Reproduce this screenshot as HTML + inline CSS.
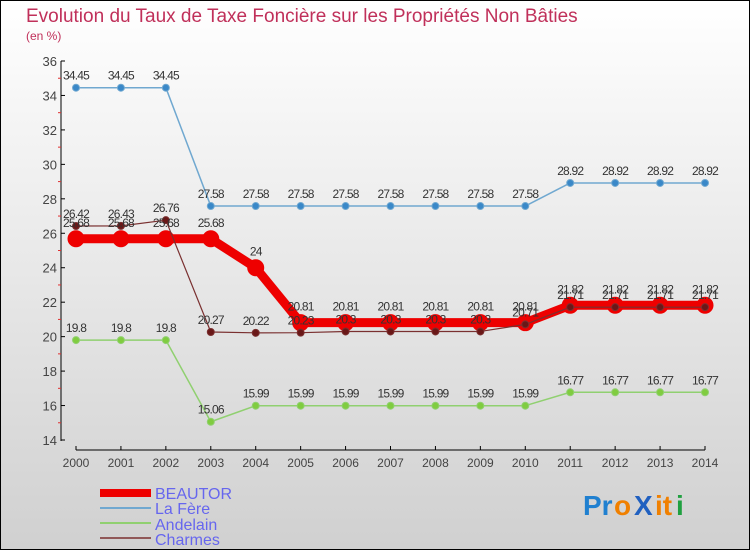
<!DOCTYPE html>
<html><head><meta charset="utf-8"><style>
html,body{margin:0;padding:0}
body{width:750px;height:550px;overflow:hidden;font-family:"Liberation Sans",sans-serif}
svg text{font-family:"Liberation Sans",sans-serif}
</style></head><body>
<svg id="chart" width="750" height="550" xmlns="http://www.w3.org/2000/svg">
<defs><linearGradient id="bg" x1="0" y1="0" x2="0" y2="1"><stop offset="0" stop-color="#ffffff"/><stop offset="1" stop-color="#d0d0d0"/></linearGradient></defs>
<rect x="0.5" y="0.5" width="749" height="549" fill="url(#bg)" stroke="#000"/>
<text x="26" y="22" font-size="19" fill="#c0305a">Evolution du Taux de Taxe Foncière sur les Propriétés Non Bâties</text>
<text x="26" y="40" font-size="12" fill="#c0305a">(en %)</text>
<g id="axes"></g><g id="series"></g><g id="labels"></g>
<g>
<rect x="100" y="489" width="51" height="8" fill="#ee0000"/>
<text x="155" y="499" font-size="16" fill="#6666ee">BEAUTOR</text>
<rect x="100" y="507" width="51" height="2" fill="#70a8d0"/>
<text x="155" y="514" font-size="16" fill="#6666ee">La Fère</text>
<rect x="100" y="522" width="51" height="2" fill="#90d070"/>
<text x="155" y="530" font-size="16" fill="#6666ee">Andelain</text>
<rect x="100" y="537" width="51" height="2" fill="#905858"/>
<text x="155" y="545" font-size="16" fill="#6666ee">Charmes</text>
</g>
<g font-size="28" font-weight="bold">
<text x="583" y="515" fill="#2080d0">Pr</text><text x="614" y="515" fill="#f08000">o</text><text x="634" y="515" fill="#2060c0">X</text><text x="655" y="515" fill="#f08000">it</text><text x="676" y="515" fill="#20a040">i</text>
</g>
</svg>
<script>
const years=[2000,2001,2002,2003,2004,2005,2006,2007,2008,2009,2010,2011,2012,2013,2014];
const yTicks=[14,16,18,20,22,24,26,28,30,32,34,36];
const beautor=[25.68,25.68,25.68,25.68,24,20.81,20.81,20.81,20.81,20.81,20.81,21.82,21.82,21.82,21.82];
const laFere=[34.45,34.45,34.45,27.58,27.58,27.58,27.58,27.58,27.58,27.58,27.58,28.92,28.92,28.92,28.92];
const andelain=[19.8,19.8,19.8,15.06,15.99,15.99,15.99,15.99,15.99,15.99,15.99,16.77,16.77,16.77,16.77];
const charmes=[26.42,26.43,26.76,20.27,20.22,20.23,20.3,20.3,20.3,20.3,20.71,21.71,21.71,21.71,21.71];
const NS='http://www.w3.org/2000/svg';
const x=i=>76+i*(705-76)/(years.length-1);
const y=v=>440-(v-14)*(440-61)/22;
function mk(tag,attrs,parent){const e=document.createElementNS(NS,tag);for(const k in attrs)e.setAttribute(k,attrs[k]);parent.appendChild(e);return e;}
const ax=document.getElementById('axes'),se=document.getElementById('series'),lb=document.getElementById('labels');
let l=mk('line',{x1:61,y1:61,x2:61,y2:441,stroke:'#000'},ax);


l=mk('line',{x1:76,y1:450,x2:705,y2:450,stroke:'#000'},ax);


yTicks.forEach((t,i)=>{
  mk('line',{x1:61,y1:y(t),x2:65,y2:y(t),stroke:'#000'},ax);
  if(i<yTicks.length-1)mk('line',{x1:58,y1:y(t+1),x2:61,y2:y(t+1),stroke:'#e03030'},ax);
  const tx=mk('text',{x:57,y:y(t)+5,'font-size':13,fill:'#444','text-anchor':'end'},ax);
  tx.textContent=t;
  
  
});
years.forEach((yr,i)=>{
  mk('line',{x1:x(i),y1:446,x2:x(i),y2:450,stroke:'#000'},ax);
  const tx=mk('text',{x:x(i),y:467,'font-size':12,fill:'#444','text-anchor':'middle'},ax);
  tx.textContent=yr;
  
  
});
function series(data,name,color,w,r,dot){
  const p=mk('polyline',{points:data.map((v,i)=>x(i)+','+y(v)).join(' '),fill:'none',stroke:color,'stroke-width':w,'stroke-linejoin':'round'},se);
  
  
  data.forEach((v,i)=>{
    const c=mk('circle',{cx:x(i),cy:y(v),r:r,fill:dot,stroke:color,'stroke-width':1},se);
    
    
    const t=mk('text',{x:x(i),y:y(v)-8-(r>5?4:0),'font-size':12,fill:'#333','text-anchor':'middle','letter-spacing':'-0.8'},lb);
    t.textContent=String(v);
    
    
  });
}
series(andelain,'andelain','#90d070',1.5,3.5,'#80cc40');
series(laFere,'la-fere','#70a8d0',1.5,3.5,'#3a88c8');
series(beautor,'beautor','#ee0000',9,8,'#ee0000');
series(charmes,'charmes','#7a3030',1.2,3.5,'#6a1818');
</script>
</body></html>
